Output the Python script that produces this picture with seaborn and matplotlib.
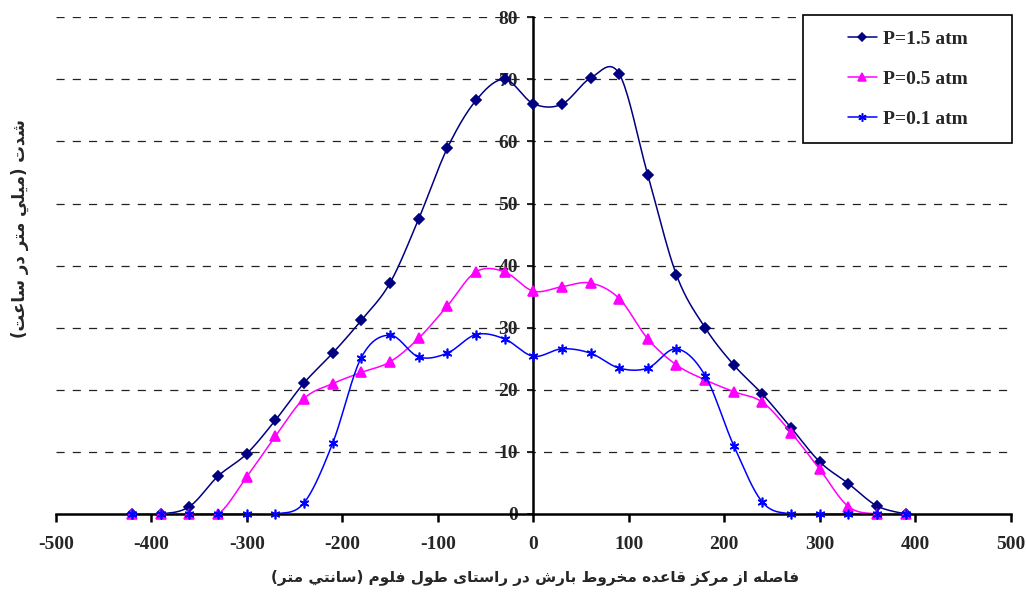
import numpy as np
import pandas as pd
import matplotlib
matplotlib.use('Agg')
import matplotlib.pyplot as plt
from matplotlib.lines import Line2D
from matplotlib.patches import Rectangle
import seaborn as sns

sns.set_theme(style='white')
plt.rcParams['font.family'] = ['Liberation Serif', 'DejaVu Sans']
plt.rcParams['axes.unicode_minus'] = False

# ---------------- data ----------------
distance = [-420, -390, -360, -330, -300, -270, -240, -210, -180, -150, -120, -90, -60, -30,
            0, 30, 60, 90, 120, 150, 180, 210, 240, 270, 300, 330, 360, 390]
p15 = [0, 0, 1.2, 6.1, 9.7, 15.1, 21.1, 25.9, 31.2, 37.2, 47.5, 58.9, 66.6, 70.0,
       66.1, 66.0, 70.2, 70.9, 54.6, 38.5, 30.0, 24.0, 19.3, 13.9, 8.4, 4.9, 1.3, 0]
p05 = [0, 0, 0, 0, 6.0, 12.5, 18.6, 21.0, 22.8, 24.5, 28.3, 33.5, 39.0, 39.0,
       35.9, 36.6, 37.2, 34.7, 28.2, 24.0, 21.6, 19.7, 18.0, 13.1, 7.2, 1.2, 0, 0]
p01 = [0, 0, 0, 0, 0, 0, 1.8, 11.4, 25.2, 28.8, 25.3, 25.9, 28.9, 28.2,
       25.4, 26.6, 25.9, 23.5, 23.5, 26.6, 22.3, 11.0, 1.9, 0, 0, 0, 0, 0]
series_labels = ['P=1.5 atm', 'P=0.5 atm', 'P=0.1 atm']
x_ticks = [-500, -400, -300, -200, -100, 0, 100, 200, 300, 400, 500]
y_ticks = [0, 10, 20, 30, 40, 50, 60, 70, 80]

x_title = 'فاصله از مرکز قاعده مخروط بارش در راستای طول فلوم (سانتي متر)'
y_title = 'شدت (ميلي متر در ساعت)'

colors = ['#000080', '#FF00FF', '#0000FF']
markers = ['D', '^', (6, 2, 0)]
msizes = [5.2, 7, 7]


# ---------------- persian shaping (no bidi lib offline) ----------------
FORMS = {
    '\u0627': ('\uFE8D', '\uFE8E', None, None),
    '\u0628': ('\uFE8F', '\uFE90', '\uFE91', '\uFE92'),
    '\u062A': ('\uFE95', '\uFE96', '\uFE97', '\uFE98'),
    '\u062E': ('\uFEA5', '\uFEA6', '\uFEA7', '\uFEA8'),
    '\u062F': ('\uFEA9', '\uFEAA', None, None),
    '\u0631': ('\uFEAD', '\uFEAE', None, None),
    '\u0632': ('\uFEAF', '\uFEB0', None, None),
    '\u0633': ('\uFEB1', '\uFEB2', '\uFEB3', '\uFEB4'),
    '\u0634': ('\uFEB5', '\uFEB6', '\uFEB7', '\uFEB8'),
    '\u0635': ('\uFEB9', '\uFEBA', '\uFEBB', '\uFEBC'),
    '\u0637': ('\uFEC1', '\uFEC2', '\uFEC3', '\uFEC4'),
    '\u0639': ('\uFEC9', '\uFECA', '\uFECB', '\uFECC'),
    '\u0641': ('\uFED1', '\uFED2', '\uFED3', '\uFED4'),
    '\u0642': ('\uFED5', '\uFED6', '\uFED7', '\uFED8'),
    '\u0644': ('\uFEDD', '\uFEDE', '\uFEDF', '\uFEE0'),
    '\u0645': ('\uFEE1', '\uFEE2', '\uFEE3', '\uFEE4'),
    '\u0646': ('\uFEE5', '\uFEE6', '\uFEE7', '\uFEE8'),
    '\u0647': ('\uFEE9', '\uFEEA', '\uFEEB', '\uFEEC'),
    '\u0648': ('\uFEED', '\uFEEE', None, None),
    '\u064A': ('\uFEF1', '\uFEF2', '\uFEF3', '\uFEF4'),
    '\u06A9': ('\uFB8E', '\uFB8F', '\uFB90', '\uFB91'),
    '\u06CC': ('\uFBFC', '\uFBFD', '\uFBFE', '\uFBFF'),
}


def shape_rtl(text):
    out = []
    for i, ch in enumerate(text):
        if ch not in FORMS:
            out.append(ch)
            continue
        prev = text[i - 1] if i > 0 else ''
        nxt = text[i + 1] if i + 1 < len(text) else ''
        join_prev = prev in FORMS and FORMS[prev][2] is not None
        join_next = FORMS[ch][2] is not None and nxt in FORMS
        iso, fin, ini, med = FORMS[ch]
        if join_prev and join_next:
            out.append(med)
        elif join_prev:
            out.append(fin)
        elif join_next:
            out.append(ini)
        else:
            out.append(iso)
    mirror = {'(': ')', ')': '('}
    return ''.join(mirror.get(c, c) for c in reversed(out))


def smooth(xs, ys, n=20):
    # excel-like smoothed line (catmull-rom through the points)
    px = np.asarray(xs, float)
    py = np.asarray(ys, float)
    ex = np.r_[px[0], px, px[-1]]
    ey = np.r_[py[0], py, py[-1]]
    t = np.linspace(0, 1, n, endpoint=False)
    sx, sy = [], []
    for i in range(1, len(px)):
        x0, x1, x2, x3 = ex[i - 1], ex[i], ex[i + 1], ex[i + 2]
        y0, y1, y2, y3 = ey[i - 1], ey[i], ey[i + 1], ey[i + 2]
        c1x, c1y = x1 + (x2 - x0) / 6, y1 + (y2 - y0) / 6
        c2x, c2y = x2 - (x3 - x1) / 6, y2 - (y3 - y1) / 6
        b0, b1, b2, b3 = (1 - t) ** 3, 3 * t * (1 - t) ** 2, 3 * t ** 2 * (1 - t), t ** 3
        sx.extend(b0 * x1 + b1 * c1x + b2 * c2x + b3 * x2)
        sy.extend(b0 * y1 + b1 * c1y + b2 * c2y + b3 * y2)
    sx.append(px[-1])
    sy.append(py[-1])
    return np.array(sx), np.array(sy)


# ---------------- figure ----------------
fig = plt.figure(figsize=(10.26, 5.94), dpi=100)
ax = fig.add_axes([0.0543, 0.1347, 0.9308, 0.8362])

for k, ys in enumerate([p15, p05, p01]):
    cx, cy = smooth(distance, ys)
    curve = pd.DataFrame({'x': cx, 'y': cy})
    sns.lineplot(data=curve, x='x', y='y', sort=False, color=colors[k], linewidth=1.1,
                 ax=ax, zorder=3 + k, estimator=None)
    ax.plot(distance, ys, linestyle='none', marker=markers[k], markersize=msizes[k],
            color=colors[k], markeredgewidth=1.2, zorder=3.5 + k, clip_on=False)

ax.set_xlim(-500, 500)
ax.set_ylim(0, 80)
ax.set_xticks(x_ticks)
ax.set_yticks(y_ticks)
ax.set_xlabel('')
ax.set_ylabel('')

for yv in y_ticks[1:]:
    ax.axhline(yv, color='#222222', lw=0.9, linestyle=(0, (6.5, 6.5)), zorder=1)

for side in ['top', 'right']:
    ax.spines[side].set_visible(False)
ax.spines['left'].set_position(('data', 0))
ax.spines['left'].set_linewidth(1.8)
ax.spines['bottom'].set_linewidth(1.8)
ax.spines['left'].set_color('black')
ax.spines['bottom'].set_color('black')
ax.spines['left'].set_zorder(2.5)

ax.tick_params(axis='x', direction='out', length=5.5, width=1.8, pad=10, labelsize=14,
               bottom=True, color='black')
ax.tick_params(axis='y', direction='out', length=4, width=1.2, pad=7, labelsize=14,
               left=True, color='black')
for lab in ax.get_xticklabels() + ax.get_yticklabels():
    lab.set_fontweight('bold')

# legend box
ax.add_patch(Rectangle((0.7825, 0.747), 0.2188, 0.2576, transform=ax.transAxes,
                       facecolor='white', edgecolor='black', linewidth=1.2,
                       zorder=8, clip_on=False))
handles = [Line2D([], [], color=colors[k], marker=markers[k], markersize=msizes[k] - 1,
                  markeredgewidth=1.1, linewidth=1.1) for k in range(3)]
leg = ax.legend(handles, series_labels, loc='center', bbox_to_anchor=(0.892, 0.876),
                frameon=False, handlelength=1.5, handletextpad=0.3, labelspacing=1.15,
                prop={'family': 'Liberation Serif', 'weight': 'bold', 'size': 14})
leg.set_zorder(9)

fig.text(0.5214, 0.027, shape_rtl(x_title), ha='center', va='center',
         fontsize=11, fontweight='bold', family=['DejaVu Sans'])
fig.text(0.0195, 0.615, shape_rtl(y_title), ha='center', va='center', rotation=90,
         fontsize=12, fontweight='bold', family=['DejaVu Sans'])

fig.savefig('out.png', dpi=100)
